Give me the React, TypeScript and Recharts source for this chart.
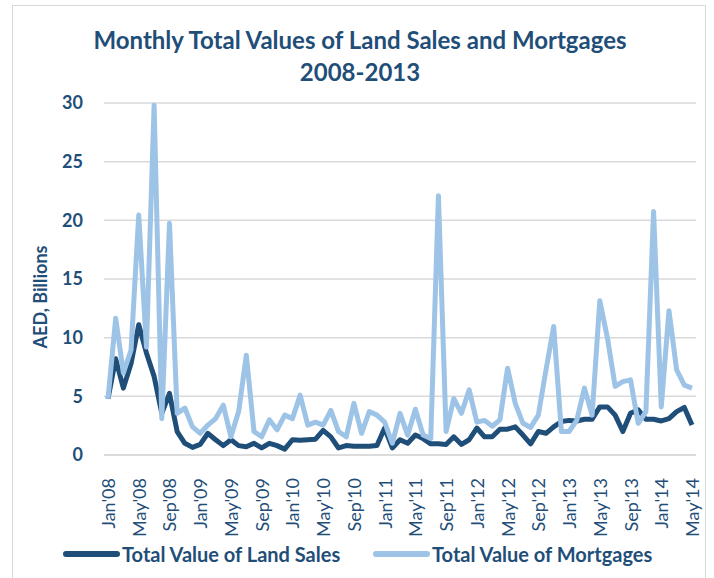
import React from "react";
import { CartesianGrid, Line, LineChart, XAxis, YAxis } from "recharts";

// Monthly values, Jan'08 .. May'14 (AED billions)
const MONTHS = ["Jan", "Feb", "Mar", "Apr", "May", "Jun", "Jul", "Aug", "Sep", "Oct", "Nov", "Dec"];
const YEARS = ["08", "09", "10", "11", "12", "13", "14"];
const LAST_MONTH_2014 = 5;

const LAND_SALES = [
  4.8, 8.2, 5.7, 7.8, 11.1, 8.7, 6.7, 3.55, 5.25, 2.0,
  1.0, 0.65, 0.9, 1.85, 1.3, 0.8, 1.3, 0.8, 0.7, 1.0,
  0.6, 1.0, 0.8, 0.5, 1.3, 1.25, 1.3, 1.35, 2.1, 1.55,
  0.6, 0.8, 0.75, 0.75, 0.75, 0.8, 2.3, 0.6, 1.3, 1.0,
  1.7, 1.4, 0.95, 0.95, 0.9, 1.55, 0.9, 1.3, 2.3, 1.55,
  1.55, 2.2, 2.2, 2.4, 1.7, 0.95, 2.0, 1.85, 2.4, 2.85,
  2.95, 2.9, 3.05, 3.05, 4.1, 4.1, 3.4, 2.0, 3.55, 3.85,
  3.05, 3.05, 2.9, 3.1, 3.7, 4.05, 2.55,
];

const MORTGAGES = [
  4.8, 11.65, 7.0, 8.95, 20.45, 9.2, 29.8, 3.1, 19.75, 3.55,
  4.0, 2.4, 1.85, 2.55, 3.1, 4.25, 1.55, 3.7, 8.5, 2.0,
  1.55, 3.0, 2.15, 3.4, 3.1, 5.1, 2.55, 2.8, 2.55, 3.8,
  2.0, 1.55, 4.4, 1.85, 3.7, 3.4, 2.8, 1.0, 3.55, 1.7,
  3.9, 1.7, 1.4, 22.1, 2.0, 4.8, 3.55, 5.55, 2.8, 2.95,
  2.45, 3.0, 7.4, 4.4, 2.7, 2.35, 3.4, 7.25, 10.95, 2.0,
  2.0, 2.95, 5.7, 3.4, 13.15, 9.95, 5.85, 6.25, 6.4, 2.7,
  3.7, 20.75, 4.1, 12.3, 7.25, 5.95, 5.7,
];

const Y_TICKS = [0, 5, 10, 15, 20, 25, 30];

const DARK = "#1F4E79";
const LIGHT = "#9DC3E6";
const FONT = "Lato, 'Open Sans', sans-serif";

const labels: string[] = [];
YEARS.forEach((yr, yi) => {
  const n = yi === YEARS.length - 1 ? LAST_MONTH_2014 : 12;
  for (let m = 0; m < n; m++) labels.push(`${MONTHS[m]}'${yr}`);
});

const data = labels.map((month, i) => ({
  month,
  land: LAND_SALES[i],
  mortgages: MORTGAGES[i],
}));

const MonthTick = (props: any) => {
  const { x, y, payload } = props;
  const ty = y + 15;
  return (
    <text
      x={x}
      y={ty}
      transform={`rotate(-90, ${x}, ${ty})`}
      textAnchor="end"
      dominantBaseline="central"
      fill={DARK}
      fontSize={18}
      fontFamily={FONT}
    >
      {payload.value}
    </text>
  );
};

const AxisTitle = () => (
  <text
    x={40}
    y={297}
    transform="rotate(-90, 40, 297)"
    textAnchor="middle"
    dominantBaseline="central"
    fill={DARK}
    fontSize={18}
    fontWeight="bold"
    fontFamily={FONT}
  >
    AED, Billions
  </text>
);

const LEGEND_ITEMS = [
  { name: "Total Value of Land Sales", color: DARK, left: 62 },
  { name: "Total Value of Mortgages", color: LIGHT, left: 372 },
];

const LegendBox = () => (
  <div style={{ position: "absolute", left: 0, top: 539, width: 714, height: 30 }}>
    {LEGEND_ITEMS.map((it) => (
      <div
        key={it.name}
        style={{ position: "absolute", left: it.left, top: 0, height: 30, display: "flex", alignItems: "center" }}
      >
        <svg width={58} height={10}>
          <line x1={4} y1={5} x2={55} y2={5} stroke={it.color} strokeWidth={6} strokeLinecap="round" />
        </svg>
        <span style={{ color: DARK, fontWeight: "bold", fontSize: 20, fontFamily: FONT, marginLeft: 2 }}>
          {it.name}
        </span>
      </div>
    ))}
  </div>
);

export default function App() {
  return (
    <div style={{ position: "absolute", left: 0, top: 0, width: 714, height: 578, background: "#fff", overflow: "hidden" }}>
      <div
        style={{
          position: "absolute",
          left: 12,
          top: 5,
          width: 694,
          height: 620,
          border: "1.5px solid #d9d9d9",
          boxSizing: "border-box",
        }}
      />
      <div
        style={{
          position: "absolute",
          left: 0,
          top: 24,
          width: 720,
          textAlign: "center",
          color: DARK,
          fontFamily: FONT,
          fontWeight: "bold",
          fontSize: 24,
          lineHeight: "32px",
        }}
      >
        Monthly Total Values of Land Sales and Mortgages
        <br />
        2008-2013
      </div>
      <div style={{ position: "absolute", left: 0, top: 0 }}>
        <LineChart width={714} height={578} data={data} margin={{ top: 103, right: 18, left: 0, bottom: 43 }}>
          <CartesianGrid horizontal vertical={false} stroke="#d9d9d9" strokeWidth={1.5} />
          <XAxis
            dataKey="month"
            interval={3}
            tickLine={false}
            axisLine={{ stroke: "#d9d9d9", strokeWidth: 1.5 }}
            tick={<MonthTick />}
            height={80}
            padding={{ left: 4, right: 4 }}
          />
          <YAxis
            domain={[0, 30]}
            ticks={Y_TICKS}
            width={104}
            axisLine={false}
            tickLine={false}
            tickSize={0}
            tickMargin={21}
            tick={{ fill: DARK, fontSize: 18, fontWeight: "bold", fontFamily: FONT }}
            label={<AxisTitle />}
          />
          <Line
            type="linear"
            dataKey="land"
            name="Total Value of Land Sales"
            stroke={DARK}
            strokeWidth={5}
            dot={false}
            strokeLinejoin="round"
            isAnimationActive={false}
          />
          <Line
            type="linear"
            dataKey="mortgages"
            name="Total Value of Mortgages"
            stroke={LIGHT}
            strokeWidth={5}
            dot={false}
            strokeLinejoin="round"
            isAnimationActive={false}
          />
        </LineChart>
      </div>
      <LegendBox />
    </div>
  );
}
